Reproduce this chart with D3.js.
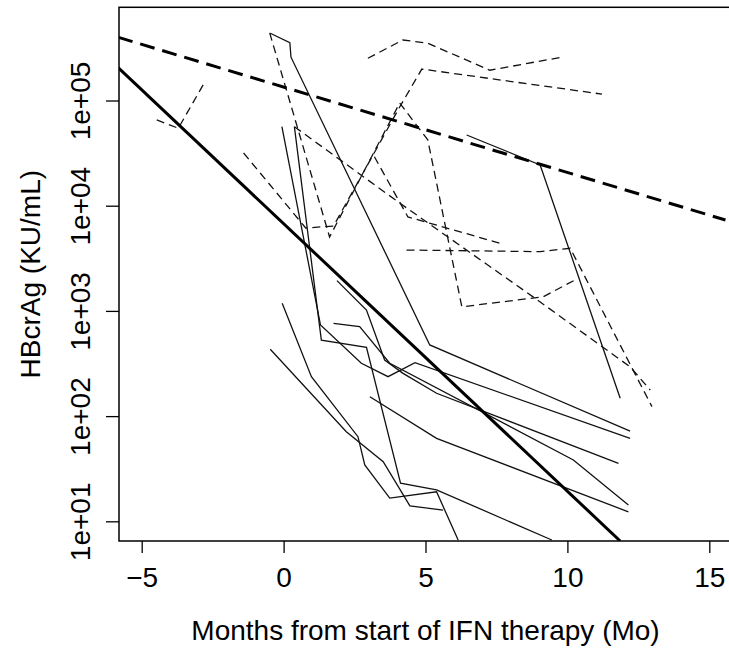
<!DOCTYPE html>
<html>
<head>
<meta charset="utf-8">
<script src="https://cdn.jsdelivr.net/npm/d3@7"></script>
<style>
  body { margin: 0; background: #fff; }
  text { font-family: "Liberation Sans", Arial, Helvetica, sans-serif; fill: #000; }
</style>
</head>
<body>
<div id="vis"></div>
<script>
const width = 729
const height = 652

// plot box (R style, xlim -5..15, ylim 10..5e5 with 4% padding)
const box = { left: 119, right: 732, top: 7.3, bottom: 541 };

// tick labels
const xTicks = [-5, 0, 5, 10, 15];
const yTicks = [1e1, 1e2, 1e3, 1e4, 1e5];
const yTickLabels = ['1e+01', '1e+02', '1e+03', '1e+04', '1e+05'];

// regression lines (month, KU/mL) - two points each
const fitNonResponder = [[-5.83, 399000], [15.57, 7310]];
const fitResponder = [[-5.83, 205000], [11.86, 6.5]];

// patients whose HBcrAg did not fall (dashed)
const dashedPatients = [
  [[-4.47, 65300], [-3.71, 54500], [-2.80, 146000]],
  [[2.97, 252000], [4.20, 376000], [5.08, 350000], [7.27, 194000], [9.80, 258000]],
  [[-0.49, 439000], [1.62, 5040], [4.09, 94600], [5.08, 42300], [6.28, 1094], [9.14, 1360], [10.27, 1970]],
  [[-1.41, 31700], [0.78, 6140], [1.76, 6410], [4.09, 86700], [4.87, 199000], [11.22, 115000]],
  [[0.38, 56400], [4.09, 10600], [8.79, 1360], [12.21, 294], [12.92, 177]],
  [[4.33, 3790], [9.04, 3660], [10.10, 3940], [12.98, 123]],
  [[3.20, 29200], [4.38, 7820], [7.62, 4400]]
];

// patients whose HBcrAg fell (solid)
const solidPatients = [
  [[-0.47, 436000], [0.22, 355000], [0.26, 258000], [5.15, 475], [12.21, 72]],
  [[6.45, 47000], [9.04, 24400], [11.86, 148]],
  [[-0.06, 56400], [1.30, 734], [2.74, 318], [3.68, 237], [4.63, 322], [12.21, 61.5]],
  [[0.38, 56400], [1.33, 528], [2.92, 451], [4.12, 23], [5.39, 19.9], [9.45, 6.64]],
  [[1.88, 1940], [2.92, 1020], [3.56, 341], [4.21, 255], [5.39, 165], [11.80, 35.6]],
  [[1.76, 762], [2.68, 708], [3.74, 318], [10.21, 38.3], [12.15, 14.3]],
  [[3.04, 153], [5.39, 61.5], [12.15, 12.3]],
  [[-0.05, 1180], [0.98, 237], [2.62, 63.7], [2.86, 34.3], [3.74, 16.6], [5.39, 19.1], [6.15, 6.64]],
  [[-0.47, 432], [2.21, 71.1], [3.51, 36.9], [4.45, 14.0], [5.62, 12.8]]
];

const svg = d3.select('#vis')
  .append('svg')
  .attr('width', width)
  .attr('height', height)

const x = d3.scaleLinear().domain([-5.8, 15.8]).range([box.left, box.right]);
const y = d3.scaleLog().domain([6.5, 769000]).range([box.bottom, box.top]);

svg.append('clipPath').attr('id', 'plotclip')
  .append('rect')
  .attr('x', box.left).attr('y', box.top)
  .attr('width', box.right - box.left).attr('height', box.bottom - box.top);

const line = d3.line().x(d => x(d[0])).y(d => y(d[1]));
const plot = svg.append('g').attr('clip-path', 'url(#plotclip)');

plot.selectAll('path.dashed')
  .data(dashedPatients)
  .enter().append('path')
  .attr('class', 'dashed')
  .attr('d', line)
  .attr('fill', 'none')
  .attr('stroke', '#111')
  .attr('stroke-width', 1.3)
  .attr('stroke-dasharray', '8,5');

plot.selectAll('path.solid')
  .data(solidPatients)
  .enter().append('path')
  .attr('class', 'solid')
  .attr('d', line)
  .attr('fill', 'none')
  .attr('stroke', '#111')
  .attr('stroke-width', 1.3);

plot.append('path')
  .attr('d', line(fitNonResponder))
  .attr('fill', 'none')
  .attr('stroke', '#000')
  .attr('stroke-width', 3)
  .attr('stroke-dasharray', '15,8');

plot.append('path')
  .attr('d', line(fitResponder))
  .attr('fill', 'none')
  .attr('stroke', '#000')
  .attr('stroke-width', 3);

// box
svg.append('rect')
  .attr('x', box.left).attr('y', box.top)
  .attr('width', box.right - box.left).attr('height', box.bottom - box.top)
  .attr('fill', 'none').attr('stroke', '#000').attr('stroke-width', 1.5);

// x axis
const xAxis = svg.append('g')
  .attr('transform', `translate(0,${box.bottom})`)
  .call(d3.axisBottom(x).tickValues(xTicks).tickSize(12).tickPadding(14).tickFormat(d => d < 0 ? '\u2212' + Math.abs(d) : d));
xAxis.select('.domain').remove();
xAxis.selectAll('line').attr('stroke', '#000').attr('stroke-width', 1.3);
xAxis.selectAll('text').attr('font-size', 28).attr('fill', '#000').attr('dy', '0.71em');

// y axis
const yAxis = svg.append('g')
  .attr('transform', `translate(${box.left},0)`)
  .call(d3.axisLeft(y).tickValues(yTicks).tickSize(13).tickFormat((d, i) => yTickLabels[i]));
yAxis.select('.domain').remove();
yAxis.selectAll('line').attr('stroke', '#000').attr('stroke-width', 1.3);
yAxis.selectAll('text')
  .attr('font-size', 28)
  .attr('fill', '#000')
  .attr('x', null).attr('dy', null)
  .attr('text-anchor', 'middle')
  .attr('transform', 'translate(-29,0) rotate(-90)');

svg.append('text')
  .attr('x', (box.left + box.right) / 2)
  .attr('y', 640)
  .attr('text-anchor', 'middle')
  .attr('font-size', 28)
  .text('Months from start of IFN therapy (Mo)');

svg.append('text')
  .attr('transform', `translate(40,${(box.top + box.bottom) / 2}) rotate(-90)`)
  .attr('text-anchor', 'middle')
  .attr('font-size', 28)
  .text('HBcrAg (KU/mL)');
</script>
</body>
</html>
